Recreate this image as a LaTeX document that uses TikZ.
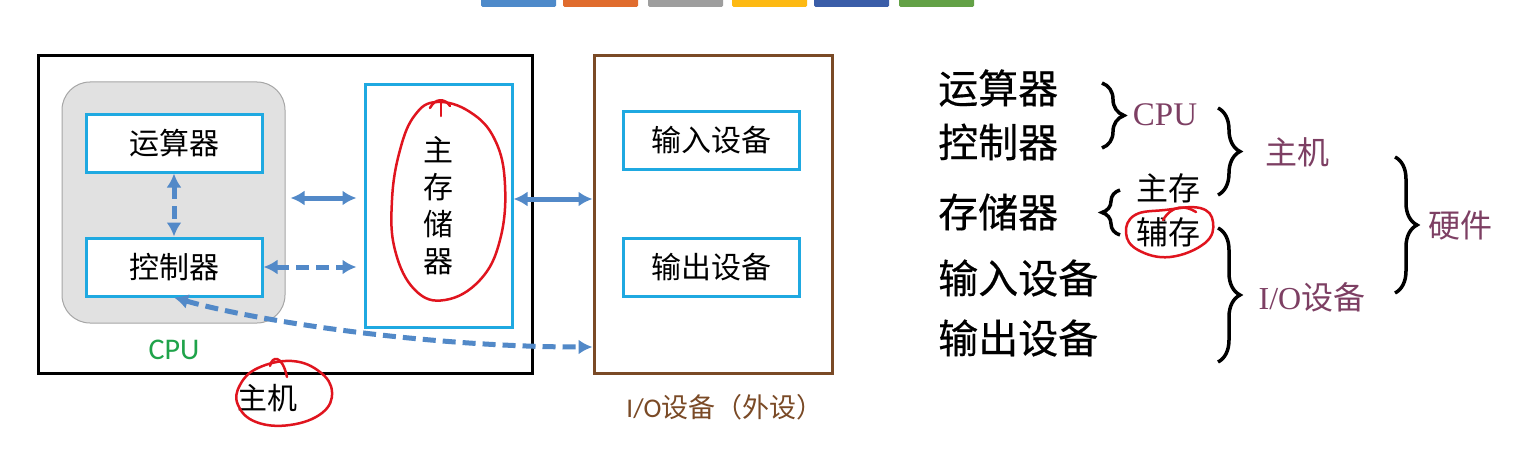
\documentclass[tikz,border=0pt]{standalone}
\usepackage{fontspec}
\usepackage{tikz}
\usetikzlibrary{arrows.meta,decorations.pathreplacing,positioning}
\newfontfamily\cjk{Noto Sans CJK SC}
\newfontfamily\cjkheavy{Noto Sans CJK SC}[FakeBold=0.4]
\newfontfamily\carlito{Carlito}
\newfontfamily\tnr{Liberation Serif}
\definecolor{hwcyan}{HTML}{1FA9E1}
\definecolor{hwarrow}{HTML}{5289C8}
\definecolor{hwbrown}{HTML}{7A4A26}
\definecolor{hwgreen}{HTML}{1FA34A}
\definecolor{hwplum}{HTML}{7D3F63}
\definecolor{hwgray}{HTML}{E1E1E1}
\definecolor{hwred}{HTML}{E0141E}
\definecolor{barblue}{HTML}{4E8ACA}
\definecolor{barorange}{HTML}{E06C2E}
\definecolor{bargray}{HTML}{9E9E9E}
\definecolor{baryellow}{HTML}{FDB913}
\definecolor{barnavy}{HTML}{3A5DA8}
\definecolor{bargreen}{HTML}{63A146}

\begin{document}
\begin{tikzpicture}[x=1pt,y=-1pt,
  every node/.style={inner sep=0pt},
  unit/.style={draw=hwcyan,line width=3pt,fill=white,minimum width=176pt,minimum height=58pt,font=\fontsize{30}{36}\selectfont\cjk},
  frame/.style={draw,line width=3pt,fill=white},
  biarrow/.style={{Latex[length=14pt,width=15pt]}-{Latex[length=14pt,width=15pt]},line width=5pt,draw=hwarrow},
  bidash/.style={biarrow,dash pattern=on 13pt off 7pt},
  listitem/.style={anchor=west,font=\fontsize{40}{48}\selectfont\cjkheavy},
  group/.style={font=\fontsize{32}{38}\selectfont\cjk,text=hwplum},
  curly/.style={decorate,decoration={brace,amplitude=#1},line width=3.5pt},
  scribble/.style={draw=hwred,line width=2.5pt,line cap=round,line join=round}
]
\path[fill=white] (0,0) rectangle (1527,452);
\useasboundingbox (0,0) rectangle (1527,452);

% colour tabs on top
\foreach \bx/\bc in {481/barblue,563/barorange,648/bargray,732/baryellow,814/barnavy,899/bargreen}
  \fill[\bc,rounded corners=1.5pt] (\bx,-3) rectangle ++(75,10);

% left: host and peripherals
\node[frame,minimum width=494pt,minimum height=317pt] (host) at (285,214.5) {};
\node[draw=gray!70,fill=hwgray,rounded corners=28pt,line width=1pt,minimum width=223pt,minimum height=241pt] (cpu) at (173.5,202.5) {};
\node[unit] (alu) at (174,143) {运算器};
\node[unit] (cu) at (174,267) {控制器};
\node[unit,minimum width=147pt,minimum height=242pt,align=center,font=\fontsize{30}{37}\selectfont\cjk] (mem) at (438.5,206) {主\\存\\储\\器};
\node[frame,draw=hwbrown,minimum width=238pt,minimum height=317pt] (io) at (713,214.5) {};
\node[unit] (inp) at (711,140.5) {输入设备};
\node[unit] (outp) at (711,267.5) {输出设备};
\node[text=hwgreen,font=\fontsize{30}{36}\selectfont\carlito] (cpulbl) at (174,350) {CPU};
\node[font=\fontsize{30}{36}\selectfont\cjk] (hostlbl) at (267,398) {主机};
\node[text=hwbrown,font=\fontsize{27}{32}\selectfont\cjk] (iolbl) at (725,407) {{\carlito I/O}设备（外设）};

\draw[bidash] (alu) -- (cu);
\draw[biarrow,shorten <=5pt,shorten >=7pt] ([yshift=4.5pt]cpu.east) -- ([yshift=4.5pt]cpu.east -| mem.west);
\draw[bidash,shorten >=7pt] (cu) -- (cu -| mem.west);
\draw[biarrow] ([yshift=7pt]mem.east) -- ([yshift=7pt]mem.east -| io.west);
\draw[bidash] (cu.south) .. controls (260,322) and (430,347) .. ([yshift=-132.5pt]io.west);

% red pen marks
\draw[scribble] plot[smooth cycle,tension=0.7] coordinates {(437,102) (470,112) (495,140) (505,185) (500,240) (480,280) (445,300) (415,290) (395,250) (392,200) (400,150) (415,115)};
\draw[scribble] (430,108) .. controls (435,98) and (445,98) .. (450,106);
\draw[scribble] (441,102) -- (441,116);
\draw[scribble] plot[smooth cycle,tension=0.7] coordinates {(258,368) (292,361) (320,372) (332,392) (322,413) (290,425) (256,422) (238,405) (240,385)};
\draw[scribble] (270,366) .. controls (272,356) and (282,354) .. (287,377);

% right: classification
\node[listitem] (r-alu) at (938,88) {运算器};
\node[listitem] (r-cu) at (938,142) {控制器};
\node[listitem] (r-mem) at (938,212) {存储器};
\node[listitem] (r-in) at (938,278) {输入设备};
\node[listitem] (r-out) at (938,338) {输出设备};

\draw[curly=22pt] (1102,83) -- (1102,148);
\node[group,font=\fontsize{33}{40}\selectfont\tnr] (g-cpu) at (1165,115) {CPU};
\draw[curly=22pt] (1218,108) -- (1218,195);
\node[group] (g-host) at (1297,152) {主机};
\draw[curly=18pt] (1120,235) -- (1120,190);
\node[font=\fontsize{32}{38}\selectfont\cjk] (g-main) at (1168,188) {主存};
\node[font=\fontsize{32}{38}\selectfont\cjk] (g-aux) at (1168,232) {辅存};
\draw[curly=22pt] (1218,228) -- (1218,362);
\node[group] (g-io) at (1312,297) {{\tnr I/O}设备};
\draw[curly=22pt] (1395,157) -- (1395,293);
\node[group] (g-hw) at (1460,225) {硬件};

\draw[scribble] plot[smooth cycle,tension=0.7] coordinates {(1135,215) (1165,210) (1200,208) (1213,222) (1205,243) (1170,257) (1138,250) (1126,233)};
\draw[scribble] (1163,220) .. controls (1172,205) and (1185,205) .. (1196,212);
\end{tikzpicture}
\end{document}
